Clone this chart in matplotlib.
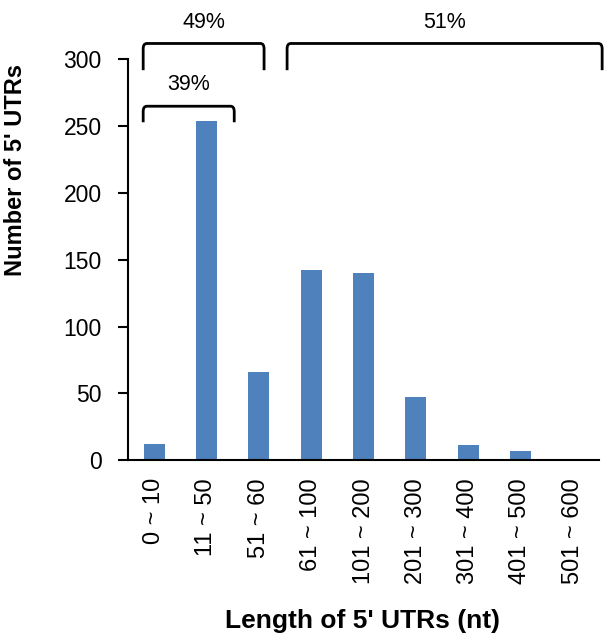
import matplotlib
matplotlib.use("Agg")
import matplotlib.pyplot as plt
from matplotlib.path import Path
from matplotlib.patches import PathPatch

plt.rcParams['font.family'] = ['Liberation Sans', 'DejaVu Sans']

categories = ["0 ~ 10", "11 ~ 50", "51 ~ 60", "61 ~ 100", "101 ~ 200",
              "201 ~ 300", "301 ~ 400", "401 ~ 500", "501 ~ 600"]
counts = [12, 254, 66, 142, 140, 47, 11, 7, 0]

# bracket annotations: (start, end, top, drop, label)
brackets = [(-0.21, 2.1, 312, 20, "49%"),
            (2.54, 8.56, 312, 20, "51%"),
            (-0.21, 1.53, 265, 12, "39%")]

W, H = 609, 640
fig = plt.figure(figsize=(W / 100, H / 100), dpi=100)
ax = fig.add_axes([128 / W, (H - 460) / H, (599 - 128) / W, (460 - 59.5) / H])

x = list(range(len(categories)))
ax.bar(x, counts, width=0.4, color="#4F81BD")
ax.set_xlim(-0.5, len(categories) - 0.5)
ax.set_ylim(0, 300)
ax.set_yticks(range(0, 301, 50))
ax.set_xticks(x)
ax.set_xticklabels(categories, rotation=90, fontsize=17)
ax.tick_params(axis='x', length=0, pad=13)
ax.tick_params(axis='y', direction='out', length=7, width=1.5, labelsize=16.5, pad=12)
for s in ['top', 'right']:
    ax.spines[s].set_visible(False)
for s in ['left', 'bottom']:
    ax.spines[s].set_linewidth(1.5)

fig.text(362 / W, 1 - 621 / H, "Length of 5' UTRs (nt)", ha='center', va='center',
         fontsize=19, fontweight='bold')
fig.text(16 / W, 1 - 170 / H, "Number of 5' UTRs", ha='center', va='center',
         rotation=90, fontsize=17, fontweight='bold')

for (a, b, top, drop, lab) in brackets:
    r = 0.07
    ry = 4
    verts = [(a, top - drop), (a, top - ry), (a, top), (a + r, top),
             (b - r, top), (b, top), (b, top - ry), (b, top - drop)]
    codes = [Path.MOVETO, Path.LINETO, Path.CURVE3, Path.CURVE3,
             Path.LINETO, Path.CURVE3, Path.CURVE3, Path.LINETO]
    ax.add_patch(PathPatch(Path(verts, codes), fill=False, lw=2, color='black',
                           clip_on=False, capstyle='butt'))
    ax.text((a + b) / 2, top + 16, lab, ha='center', va='center', fontsize=15.5,
            clip_on=False)

fig.savefig("out.png", dpi=100)
